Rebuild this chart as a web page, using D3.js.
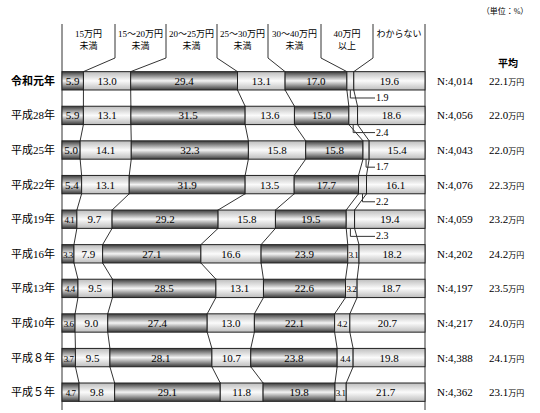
<!DOCTYPE html>
<html><head><meta charset="utf-8">
<script src="https://cdn.jsdelivr.net/npm/d3@7"></script>
<style>body{margin:0;background:#fff}text{font-family:"Liberation Serif","Noto Sans CJK JP",serif}</style>
</head><body><svg id="c" width="540" height="413"></svg>
<script>
const years = ["令和元年","平成28年","平成25年","平成22年","平成19年","平成16年","平成13年","平成10年","平成８年","平成５年"];
const headers = [["15万円","未満"],["15～20万円","未満"],["20～25万円","未満"],["25～30万円","未満"],["30～40万円","未満"],["40万円","以上"],["わからない",""]];
const values = [
  [5.9,13.0,29.4,13.1,17.0,1.9,19.6],
  [5.9,13.1,31.5,13.6,15.0,2.4,18.6],
  [5.0,14.1,32.3,15.8,15.8,1.7,15.4],
  [5.4,13.1,31.9,13.5,17.7,2.2,16.1],
  [4.1,9.7,29.2,15.8,19.5,2.3,19.4],
  [3.3,7.9,27.1,16.6,23.9,3.1,18.2],
  [4.4,9.5,28.5,13.1,22.6,3.2,18.7],
  [3.6,9.0,27.4,13.0,22.1,4.2,20.7],
  [3.7,9.5,28.1,10.7,23.8,4.4,19.8],
  [4.7,9.8,29.1,11.8,19.8,3.1,21.7]
];
const nLabels = ["4,014","4,056","4,043","4,076","4,059","4,202","4,197","4,217","4,388","4,362"];
const averages = ["22.1","22.0","22.0","22.3","23.2","24.2","23.5","24.0","24.1","23.1"];
const headerX = [115,166,217,268,321,373];

const svg = d3.select("#c");
const x = d3.scaleLinear().domain([0,100]).range([62,425]);
const y = d3.scaleBand().domain(years).range([63,410]).paddingInner(0.47).paddingOuter(0.25);
const bh = y.bandwidth();

const defs = svg.append("defs");
function grad(id, edge, mid){
  const g = defs.append("linearGradient").attr("id",id).attr("x1",0).attr("y1",0).attr("x2",0).attr("y2",1);
  g.append("stop").attr("offset","0%").attr("stop-color",edge);
  g.append("stop").attr("offset","50%").attr("stop-color",mid);
  g.append("stop").attr("offset","100%").attr("stop-color",edge);
}
grad("dark","#3a3a3a","#f4f4f4");
grad("light","#bdbdbd","#fbfbfb");
const fills = ["url(#dark)","url(#light)","url(#dark)","url(#light)","url(#dark)","url(#light)","url(#light)"];

const rows = values.map(v => {
  const s = d3.sum(v); let c = 0;
  return v.map(d => { const x0 = c; c += d*100/s; return [x0, c]; });
});

svg.append("line").attr("x1",62).attr("x2",62).attr("y1",24).attr("y2",410).attr("stroke","#333");
svg.append("line").attr("x1",425).attr("x2",425).attr("y1",24).attr("y2",410).attr("stroke","#333");

const hw = [62,...headerX,425];
headers.forEach((h,i) => {
  const cx = (hw[i]+hw[i+1])/2;
  h.forEach((t,k) => svg.append("text").attr("x",cx).attr("y",37+k*12).attr("text-anchor","middle")
    .attr("font-size",9).text(t));
});
headerX.forEach((hx,i) => {
  const bx = x(rows[0][i][1]);
  svg.append("path").attr("fill","none").attr("stroke","#333")
    .attr("d",`M${hx},24V58L${bx},${y(years[0])}`);
});

for (let r=0; r<years.length-1; r++){
  for (let i=0;i<6;i++){
    svg.append("line").attr("stroke","#333")
      .attr("x1",x(rows[r][i][1])).attr("y1",y(years[r])+bh)
      .attr("x2",x(rows[r+1][i][1])).attr("y2",y(years[r+1]));
  }
}

years.forEach((yr,r) => {
  const yy = y(yr);
  const g = svg.append("g");
  g.selectAll("rect").data(rows[r]).join("rect")
    .attr("x",d=>x(d[0])).attr("width",d=>x(d[1])-x(d[0]))
    .attr("y",yy).attr("height",bh).attr("fill",(d,i)=>fills[i]).attr("stroke","#222").attr("stroke-width",1);
  values[r].forEach((v,i) => {
    const [a,b] = rows[r][i];
    if (v < 2.9) {
      const mx = (x(a)+x(b))/2;
      g.append("path").attr("fill","none").attr("stroke","#333")
        .attr("d",`M${mx},${yy+bh}V${yy+bh+8}H${375}`);
      g.append("text").attr("x",376).attr("y",yy+bh+11).attr("font-size",10).text(v.toFixed(1));
    } else {
      g.append("text").attr("x",(x(a)+x(b))/2).attr("y",yy+bh/2+4).attr("text-anchor","middle")
        .attr("font-size", v < 5 ? 9 : 11).attr("letter-spacing", v<5 ? -0.5 : 0).text(v.toFixed(1));
    }
  });
  svg.append("text").attr("x",33).attr("y",yy+bh/2+4).attr("text-anchor","middle")
    .attr("font-size",11).attr("font-weight", r===0 ? "bold":"normal")
    .attr("font-family","Noto Sans CJK JP").text(yr);
  svg.append("text").attr("x",437).attr("y",yy+bh/2+4).attr("font-size",11).text("N:"+nLabels[r]);
  const t = svg.append("text").attr("x",489).attr("y",yy+bh/2+4).attr("font-size",11);
  t.append("tspan").text(averages[r]);
  t.append("tspan").attr("font-size",8).text("万円");
});
svg.append("text").attr("x",508).attr("y",67).attr("text-anchor","middle").attr("font-size",10).attr("font-weight","bold")
  .attr("font-family","Noto Sans CJK JP").text("平均");
svg.append("text").attr("x",505).attr("y",14).attr("text-anchor","middle").attr("font-size",8).text("（単位：%）");
</script></body></html>
